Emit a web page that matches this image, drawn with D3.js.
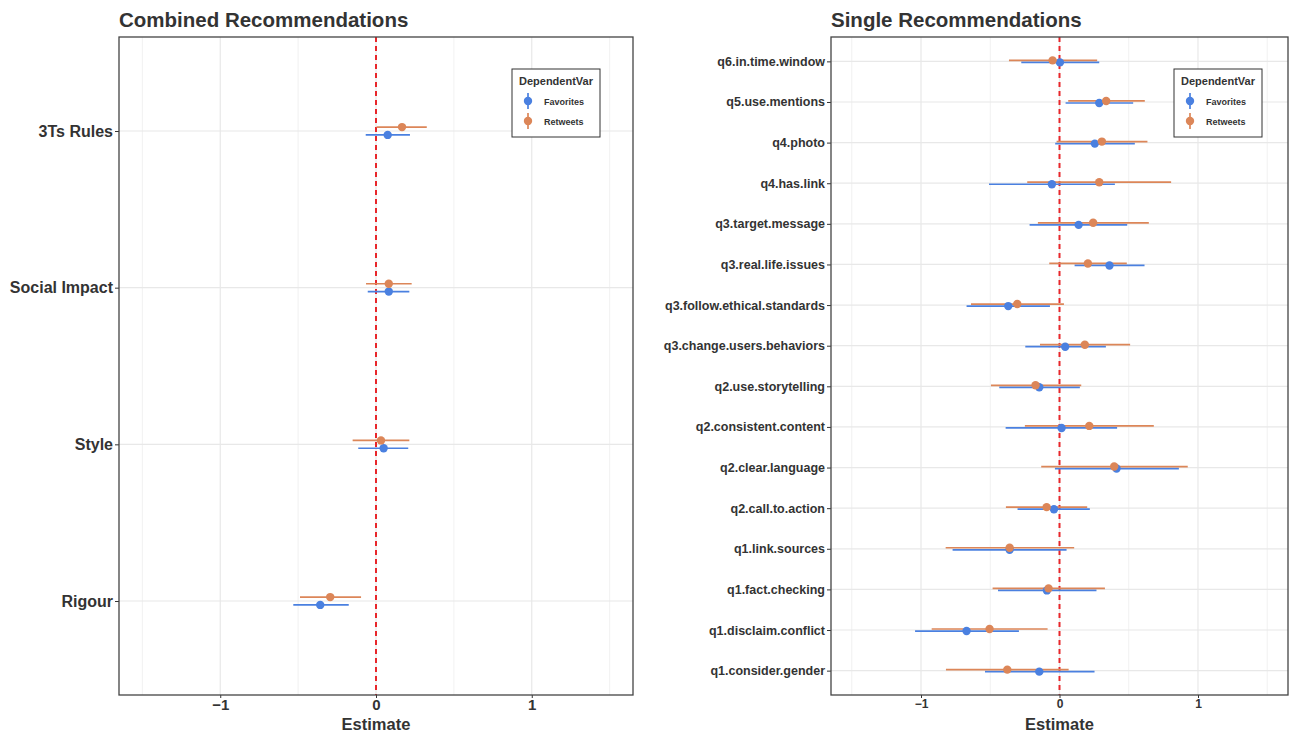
<!DOCTYPE html>
<html>
<head>
<meta charset="utf-8">
<script src="https://cdn.jsdelivr.net/npm/d3@7"></script>
<style>
  body { margin: 0; background: #fff; }
  svg { font-family: "Liberation Sans", Arial, sans-serif; }
</style>
</head>
<body>
<svg width="1291" height="734"></svg>
<script>

// combined recommendations (left panel), top to bottom
const combinedCats = ["3Ts Rules", "Social Impact", "Style", "Rigour"];
const combinedFav = [0.075, 0.082, 0.049, -0.358];
const combinedFavLo = [-0.066, -0.053, -0.114, -0.531];
const combinedFavHi = [0.218, 0.214, 0.207, -0.175];
const combinedRt = [0.167, 0.082, 0.032, -0.294];
const combinedRtLo = [0.004, -0.064, -0.150, -0.488];
const combinedRtHi = [0.326, 0.229, 0.214, -0.096];

// single recommendations (right panel), top to bottom
const singleCats = [
    "q6.in.time.window", "q5.use.mentions", "q4.photo", "q4.has.link",
    "q3.target.message", "q3.real.life.issues", "q3.follow.ethical.standards",
    "q3.change.users.behaviors", "q2.use.storytelling", "q2.consistent.content",
    "q2.clear.language", "q2.call.to.action", "q1.link.sources",
    "q1.fact.checking", "q1.disclaim.conflict", "q1.consider.gender"
];
const singleFav = [0.003, 0.287, 0.255, -0.055, 0.138, 0.361, -0.370, 0.041,
    -0.146, 0.015, 0.412, -0.040, -0.360, -0.091, -0.671, -0.146];
const singleFavLo = [-0.276, 0.044, -0.031, -0.509, -0.216, 0.109, -0.671, -0.247,
    -0.435, -0.389, -0.033, -0.303, -0.772, -0.444, -1.043, -0.538];
const singleFavHi = [0.287, 0.532, 0.544, 0.400, 0.489, 0.614, -0.069, 0.335,
    0.147, 0.416, 0.862, 0.219, 0.051, 0.267, -0.293, 0.253];
const singleRt = [-0.050, 0.337, 0.306, 0.287, 0.243, 0.205, -0.305, 0.183,
    -0.173, 0.215, 0.395, -0.093, -0.360, -0.079, -0.505, -0.377];
const singleRtLo = [-0.365, 0.063, -0.021, -0.233, -0.156, -0.074, -0.639, -0.141,
    -0.495, -0.250, -0.132, -0.387, -0.822, -0.483, -0.923, -0.820];
const singleRtHi = [0.272, 0.616, 0.635, 0.806, 0.645, 0.486, 0.032, 0.510,
    0.157, 0.681, 0.926, 0.200, 0.106, 0.328, -0.086, 0.066];

const xTicks = [-1, 0, 1];
const xMinor = [-1.5, -0.5, 0.5, 1.5];
const seriesNames = ["Favorites", "Retweets"];
const colors = {Favorites: "#4a80e0", Retweets: "#dc8658"};

function rows(cats, fav, favLo, favHi, rt, rtLo, rtHi) {
    const out = [];
    cats.forEach((c, i) => {
        out.push({cat: c, series: "Favorites", est: fav[i], lo: favLo[i], hi: favHi[i]});
        out.push({cat: c, series: "Retweets", est: rt[i], lo: rtLo[i], hi: rtHi[i]});
    });
    return out;
}

const svg = d3.select("svg");

function panel(opts) {

    const {left, right, top, bottom, cats, data, title, yFont, xFont, legendX} = opts;

    const x = d3.scaleLinear().domain([-1.65, 1.65]).range([left, right]);
    const y = d3.scalePoint().domain(cats).range([top, bottom]).padding(0.6);
    const dodge = y.step() * 0.025;

    const g = svg.append("g");

    // grid
    g.selectAll(".minor").data(xMinor).join("line")
        .attr("x1", d => x(d)).attr("x2", d => x(d))
        .attr("y1", top).attr("y2", bottom)
        .attr("stroke", "#ededed").attr("stroke-width", 0.8);

    g.selectAll(".major").data(xTicks).join("line")
        .attr("x1", d => x(d)).attr("x2", d => x(d))
        .attr("y1", top).attr("y2", bottom)
        .attr("stroke", "#e8e8e8").attr("stroke-width", 1.2);

    g.selectAll(".ymajor").data(cats).join("line")
        .attr("x1", left).attr("x2", right)
        .attr("y1", d => y(d)).attr("y2", d => y(d))
        .attr("stroke", "#e8e8e8").attr("stroke-width", 1.2);

    // zero line
    g.append("line")
        .attr("x1", x(0)).attr("x2", x(0))
        .attr("y1", top).attr("y2", bottom)
        .attr("stroke", "#e8262b").attr("stroke-width", 2)
        .attr("stroke-dasharray", "5,4");

    const yPos = d => y(d.cat) + (d.series === "Favorites" ? dodge : -dodge);

    g.selectAll(".ci").data(data).join("line")
        .attr("x1", d => x(d.lo)).attr("x2", d => x(d.hi))
        .attr("y1", yPos).attr("y2", yPos)
        .attr("stroke", d => colors[d.series])
        .attr("stroke-width", 1.7);

    g.selectAll(".pt").data(data).join("circle")
        .attr("cx", d => x(d.est)).attr("cy", yPos)
        .attr("r", 4.2)
        .attr("fill", d => colors[d.series]);

    // axes
    const xAxis = g.append("g")
        .attr("transform", `translate(0,${bottom})`)
        .call(d3.axisBottom(x).tickValues(xTicks).tickSize(3).tickPadding(1)
            .tickFormat(d => d < 0 ? "\u2212" + Math.abs(d) : d));
    xAxis.select(".domain").remove();
    xAxis.selectAll("line").attr("stroke", "#333");
    xAxis.selectAll("text").attr("fill", "#333").attr("font-size", xFont)
        .attr("font-weight", "bold");

    const yAxis = g.append("g")
        .attr("transform", `translate(${left},0)`)
        .call(d3.axisLeft(y).tickSize(4).tickPadding(2));
    yAxis.select(".domain").remove();
    yAxis.selectAll("line").attr("stroke", "#333");
    yAxis.selectAll("text").attr("fill", "#333").attr("font-size", yFont)
        .attr("font-weight", "bold");

    // border
    g.append("rect")
        .attr("x", left).attr("y", top)
        .attr("width", right - left).attr("height", bottom - top)
        .attr("fill", "none").attr("stroke", "#444").attr("stroke-width", 1.3);

    g.append("text")
        .attr("x", left).attr("y", top - 10)
        .attr("font-size", 20.5).attr("font-weight", "bold").attr("fill", "#333")
        .text(title);

    g.append("text")
        .attr("x", (left + right) / 2).attr("y", 730)
        .attr("text-anchor", "middle")
        .attr("font-size", 16.5).attr("font-weight", "bold").attr("fill", "#333")
        .text("Estimate");

    // legend
    const lg = g.append("g").attr("transform", `translate(${legendX},69)`);
    lg.append("rect").attr("width", 88).attr("height", 68)
        .attr("fill", "#fff").attr("stroke", "#333").attr("stroke-width", 1);
    lg.append("text").attr("x", 7).attr("y", 16)
        .attr("font-size", 11).attr("font-weight", "bold").attr("fill", "#333")
        .text("DependentVar");
    seriesNames.forEach((s, i) => {
        const cy = 32 + i * 20;
        lg.append("line").attr("x1", 16).attr("x2", 16)
            .attr("y1", cy - 8).attr("y2", cy + 8)
            .attr("stroke", colors[s]).attr("stroke-width", 1.7);
        lg.append("circle").attr("cx", 16).attr("cy", cy).attr("r", 4.2)
            .attr("fill", colors[s]);
        lg.append("text").attr("x", 32).attr("y", cy + 3.5)
            .attr("font-size", 9).attr("font-weight", "bold").attr("fill", "#333")
            .text(s);
    });
}

panel({
    left: 119, right: 633, top: 37, bottom: 695,
    cats: combinedCats,
    data: rows(combinedCats, combinedFav, combinedFavLo, combinedFavHi,
        combinedRt, combinedRtLo, combinedRtHi),
    title: "Combined Recommendations",
    yFont: 16, xFont: 15, legendX: 512
});

panel({
    left: 831, right: 1288, top: 37, bottom: 695,
    cats: singleCats,
    data: rows(singleCats, singleFav, singleFavLo, singleFavHi,
        singleRt, singleRtLo, singleRtHi),
    title: "Single Recommendations",
    yFont: 12.5, xFont: 12, legendX: 1174
});

</script>
</body>
</html>
